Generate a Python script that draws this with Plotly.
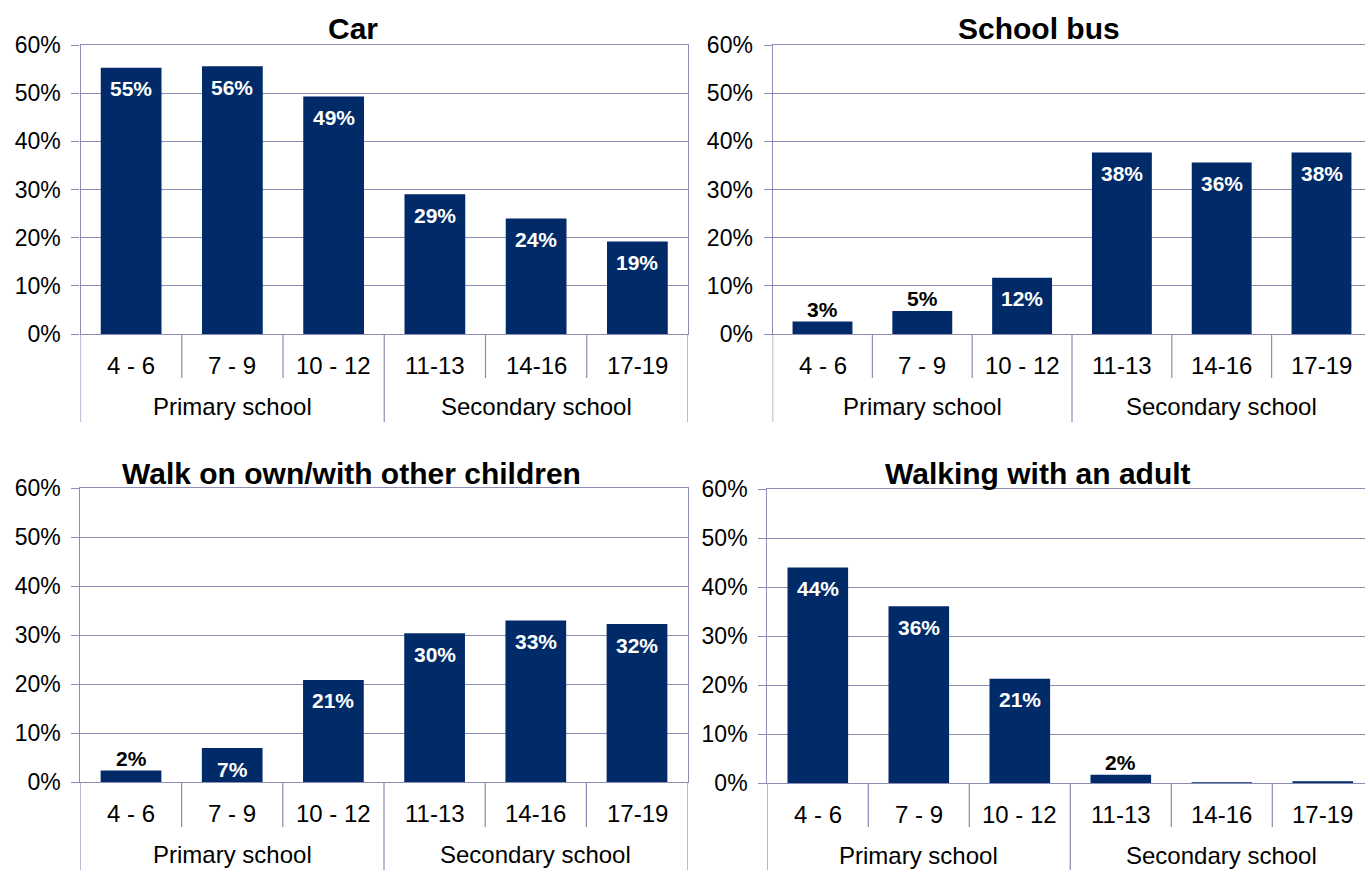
import plotly.graph_objects as go

W, H = 1365, 870

# ---------------- data ----------------
age_groups = ["4 - 6", "7 - 9", "10 - 12", "11-13", "14-16", "17-19"]
school_levels = ["Primary school", "Secondary school"]
level_of_group = [0, 0, 0, 1, 1, 1]

car = [55.3, 55.6, 49.3, 29.0, 24.0, 19.2]
school_bus = [2.6, 4.8, 11.7, 37.7, 35.6, 37.7]
walk_own = [2.4, 7.0, 20.9, 30.4, 33.0, 32.3]
walk_adult = [44.0, 36.1, 21.3, 1.7, 0.1, 0.3]

titles = ["Car", "School bus", "Walk on own/with other children", "Walking with an adult"]
series = [car, school_bus, walk_own, walk_adult]

y_ticks = [0, 10, 20, 30, 40, 50, 60]
y_tick_labels = [f"{t}%" for t in y_ticks]

# ---------------- style / layout ----------------
BAR = "#002B68"
GRID = "#8C8CB4"
FONT = "Liberation Sans, Arial, sans-serif"

# pixel geometry of each panel: (left, right, top, bottom), category width, title center
panels = [
    dict(l=80.5, r=688.0, t=45.0, b=334.0, cw=101.25, tx=353, ty=28.5, cat_end=378, grp_end=422),
    dict(l=772.6, r=1365.0, t=45.0, b=334.0, cw=99.8, tx=1039, ty=29, cat_end=378, grp_end=422),
    dict(l=80.4, r=687.6, t=488.3, b=782.3, cw=101.2, tx=351.5, ty=473, cat_end=827, grp_end=870),
    dict(l=767.3, r=1365.0, t=489.3, b=783.0, cw=101.0, tx=1038, ty=473, cat_end=827, grp_end=870),
]

fig = go.Figure()
annotations = []
shapes = []

for i, (vals, title, p) in enumerate(zip(series, titles, panels)):
    n = i + 1
    xa = "x" if n == 1 else f"x{n}"
    ya = "y" if n == 1 else f"y{n}"
    xkey = "xaxis" if n == 1 else f"xaxis{n}"
    ykey = "yaxis" if n == 1 else f"yaxis{n}"

    fig.add_trace(go.Bar(
        x=age_groups, y=vals, xaxis=xa, yaxis=ya,
        marker=dict(color=BAR, line=dict(width=0)),
        width=0.6, showlegend=False, hoverinfo="skip",
    ))

    span = (p["r"] - p["l"]) / p["cw"]
    left_panel = p["r"] < 1000
    fig.update_layout(**{
        xkey: dict(
            domain=[p["l"] / W, p["r"] / W],
            anchor=ya, type="category", categoryorder="array", categoryarray=age_groups,
            range=[-0.5, -0.5 + span], showticklabels=False, ticks="",
            showgrid=False, zeroline=False, automargin=False,
            showline=True, linecolor=GRID, linewidth=1.2, mirror=True,
            fixedrange=True,
        ),
        ykey: dict(
            domain=[1 - p["b"] / H, 1 - p["t"] / H],
            anchor=xa, range=[0, 60], tickmode="array",
            tickvals=y_ticks, ticktext=y_tick_labels,
            showgrid=True, gridcolor=GRID, gridwidth=1.2, zeroline=False,
            showline=True, linecolor=GRID, linewidth=1.2, automargin=False,
            mirror=left_panel,
            ticks="outside", ticklen=8, tickcolor=GRID, tickwidth=1.2,
            tickfont=dict(family=FONT, size=23, color="#000000"),
            ticklabelstandoff=6,
            fixedrange=True,
        ),
    })

    # title
    annotations.append(dict(
        text=f"<b>{title}</b>", xref="paper", yref="paper",
        x=p["tx"] / W, y=1 - p["ty"] / H, xanchor="center", yanchor="middle",
        showarrow=False, font=dict(family=FONT, size=30, color="#000000"),
    ))

    # data labels
    for cat, v in zip(age_groups, vals):
        if v < 1:
            continue
        inside = v >= 6
        annotations.append(dict(
            text=f"<b>{round(v)}%</b>", xref=xa, yref=ya, x=cat, y=v,
            yshift=-21 if inside else 12, xanchor="center", yanchor="middle",
            showarrow=False,
            font=dict(family=FONT, size=21, color="#FFFFFF" if inside else "#000000"),
        ))

    # category labels
    for cat in age_groups:
        annotations.append(dict(
            text=cat, xref=xa, yref=ya, x=cat, y=0, yshift=-31,
            xanchor="center", yanchor="middle", showarrow=False,
            font=dict(family=FONT, size=24, color="#000000"),
        ))

    # group labels
    for g, name in enumerate(school_levels):
        idx = [k for k, lv in enumerate(level_of_group) if lv == g]
        mid = sum(idx) / len(idx)
        annotations.append(dict(
            text=name, xref=xa, yref=ya, x=mid, y=0, yshift=-72,
            xanchor="center", yanchor="middle", showarrow=False,
            font=dict(family=FONT, size=24, color="#000000"),
        ))

    # divider lines below axis
    for k in range(len(age_groups) + 1):
        b = k - 0.5
        if b > -0.5 + span:
            continue
        is_group = (k == 0 or k == len(age_groups) or level_of_group[k] != level_of_group[k - 1])
        end = p["grp_end"] if is_group else p["cat_end"]
        shapes.append(dict(
            type="line", xref=xa, yref="paper", x0=b, x1=b,
            y0=1 - p["b"] / H, y1=1 - end / H,
            line=dict(color=GRID, width=1.2), layer="above",
        ))

fig.update_layout(
    width=W, height=H, autosize=False,
    margin=dict(l=0, r=0, t=0, b=0, pad=0, autoexpand=False),
    paper_bgcolor="#FFFFFF", plot_bgcolor="#FFFFFF",
    annotations=annotations, shapes=shapes,
    bargap=0.4, font=dict(family=FONT, color="#000000"),
)

fig.write_html("out.html", config=dict(displayModeBar=False))
